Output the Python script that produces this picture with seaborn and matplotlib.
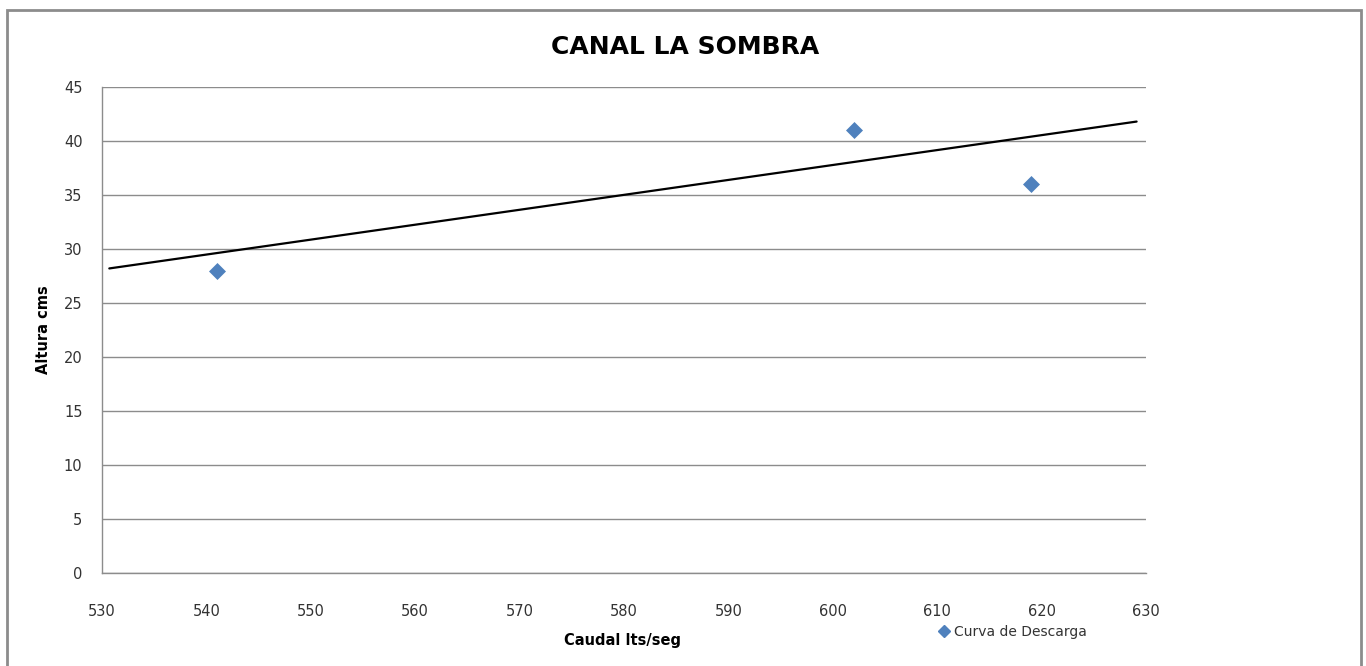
import matplotlib
matplotlib.use("Agg")
import matplotlib.pyplot as plt
import seaborn as sns
import pandas as pd
from matplotlib.patches import Rectangle
from matplotlib.lines import Line2D

# Data
caudal = [541, 602, 619]
altura = [28, 41, 36]
trend_x = [530.7, 629.1]
trend_y = [28.2, 41.8]
x_ticks = [530, 540, 550, 560, 570, 580, 590, 600, 610, 620, 630]
y_ticks = [0, 5, 10, 15, 20, 25, 30, 35, 40, 45]
series_name = "Curva de Descarga"

sns.set_style("white")
plt.rcParams['font.family'] = ['DejaVu Sans']

fig = plt.figure(figsize=(13.66, 6.66), dpi=100)
ax = fig.add_axes([102/1366, 1 - 573/666, (1146-102)/1366, (573-87)/666])

df = pd.DataFrame({"Caudal": caudal, "Altura": altura})
trend = pd.DataFrame({"x": trend_x, "y": trend_y})

sns.lineplot(data=trend, x="x", y="y", ax=ax, color="black", linewidth=1.6, zorder=3)
sns.scatterplot(data=df, x="Caudal", y="Altura", ax=ax, marker="D", s=75,
                color="#4F81BD", edgecolor="#4F81BD", linewidth=0, zorder=4)

ax.set_xlim(530, 630)
ax.set_ylim(0, 45)
ax.set_xticks(x_ticks)
ax.set_yticks(y_ticks)
ax.tick_params(axis="both", length=0, labelsize=10.5, colors="#333333")
ax.tick_params(axis="x", pad=22)
ax.tick_params(axis="y", pad=14)
ax.grid(axis="y", color="#8C8C8C", linewidth=1)
ax.set_axisbelow(True)
for side in ["top", "right"]:
    ax.spines[side].set_visible(False)
for side in ["left", "bottom"]:
    ax.spines[side].set_color("#8C8C8C")
    ax.spines[side].set_linewidth(1)

ax.set_xlabel("")
ax.set_ylabel("")
fig.text(623/1366, 1 - 640/666, "Caudal lts/seg", ha="center", va="center",
         fontsize=10.5, fontweight="bold", color="black")
fig.text(44/1366, 1 - 330/666, "Altura cms", ha="center", va="center",
         rotation=90, fontsize=10.5, fontweight="bold", color="black")
fig.text(685/1366, 1 - 47/666, "CANAL LA SOMBRA", ha="center", va="center",
         fontsize=18, fontweight="bold", color="black")

handle = Line2D([], [], marker="D", linestyle="none", color="#4F81BD",
                markersize=6.5)
leg = fig.legend([handle], [series_name], loc="center", bbox_to_anchor=(1012/1366, 1 - 632/666),
                 frameon=False, fontsize=10, handletextpad=0.2, handlelength=1.0)
for t in leg.get_texts():
    t.set_color("#333333")

fig.patches.append(Rectangle((7/1366, -0.01), (1361-7)/1366, 1 - 10/666 + 0.01,
                             transform=fig.transFigure, fill=False,
                             edgecolor="#8C8C8C", linewidth=2))

fig.savefig("out.png", dpi=100)
